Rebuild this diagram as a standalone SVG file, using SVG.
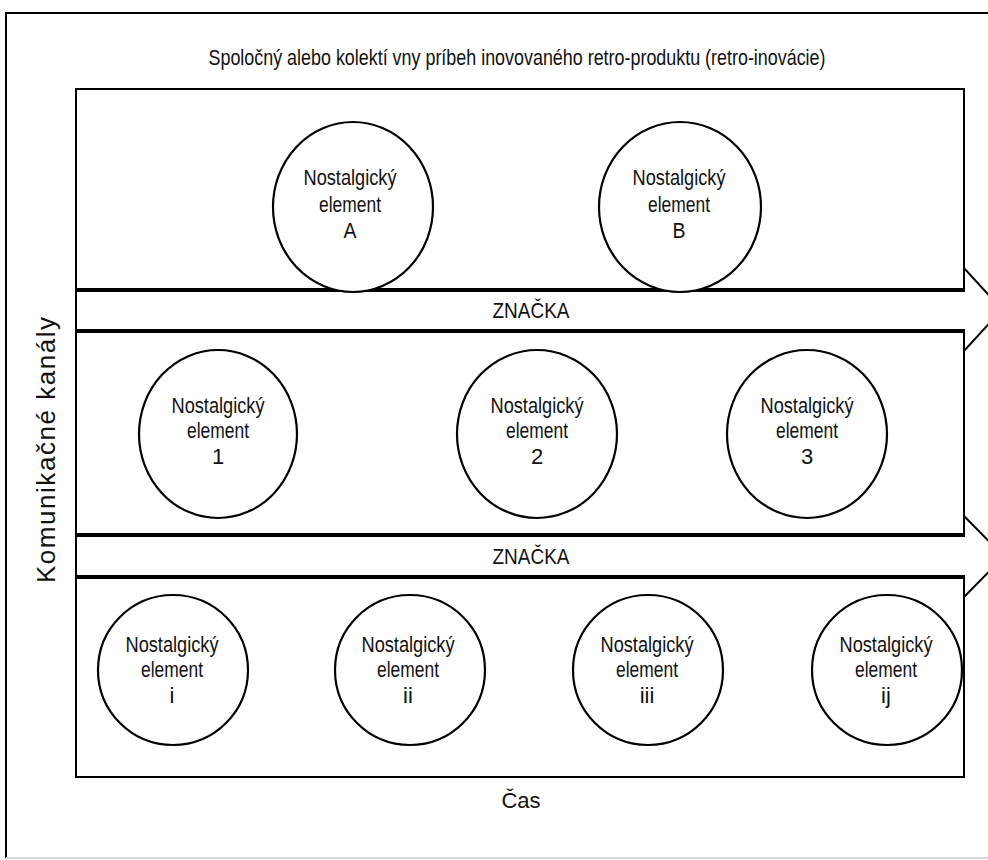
<svg xmlns="http://www.w3.org/2000/svg" width="988" height="860" viewBox="0 0 988 860">
<style>
.frame{fill:none;stroke:#000;stroke-width:2}
.panel{fill:#fff;stroke:#000;stroke-width:2}
.arrow{fill:#fff;stroke:#000;stroke-width:2;stroke-linejoin:miter}
.node{fill:#fff;stroke:#000;stroke-width:2.2}
text{font-family:"Liberation Sans",Arial,sans-serif;font-size:22px;fill:#111;text-anchor:middle}
</style>
<rect width="988" height="860" fill="#fff"/>
<g id="frame">
<line x1="6" y1="13" x2="988" y2="13" class="frame"/>
<line x1="6" y1="12" x2="6" y2="858" class="frame"/>
<line x1="6" y1="858" x2="988" y2="858" stroke="#d8d8d8" stroke-width="2"/>
</g>
<text id="title" x="517" y="65" textLength="617" lengthAdjust="spacingAndGlyphs">Spoločný alebo kolektí vny príbeh inovovaného retro-produktu (retro-inovácie)</text>
<text id="side-label" transform="translate(55,450) rotate(-90)" style="font-size:26px" textLength="266">Komunikačné kanály</text>
<g id="connectors">
<polygon class="arrow" points="76,291 964,291 964,268 1002,309.5 964,351 964,330 76,330"/>
<polygon class="arrow" points="76,536 964,536 964,516 1004,556.5 964,597 964,576 76,576"/>
<text x="531" y="318" textLength="77" lengthAdjust="spacingAndGlyphs">ZNAČKA</text>
<text x="531" y="564" textLength="77" lengthAdjust="spacingAndGlyphs">ZNAČKA</text>
</g>
<g id="panel-top"><rect class="panel" x="76" y="89" width="888" height="200"/></g>
<g id="panel-middle"><rect class="panel" x="76" y="332" width="888" height="202"/></g>
<g id="panel-bottom"><rect class="panel" x="76" y="578" width="888" height="199"/></g>
<g id="node-A"><ellipse class="node" cx="353" cy="207" rx="80" ry="85"/>
<text x="350" y="185" textLength="93" lengthAdjust="spacingAndGlyphs">Nostalgický</text>
<text x="350" y="212" textLength="62" lengthAdjust="spacingAndGlyphs">element</text>
<text x="350" y="238" textLength="13" lengthAdjust="spacingAndGlyphs">A</text></g>
<g id="node-B"><ellipse class="node" cx="680" cy="207" rx="81" ry="85"/>
<text x="679" y="185" textLength="93" lengthAdjust="spacingAndGlyphs">Nostalgický</text>
<text x="679" y="212" textLength="62" lengthAdjust="spacingAndGlyphs">element</text>
<text x="679" y="238" textLength="13" lengthAdjust="spacingAndGlyphs">B</text></g>
<g id="node-1"><ellipse class="node" cx="218" cy="434" rx="79" ry="84"/>
<text x="218" y="413" textLength="93" lengthAdjust="spacingAndGlyphs">Nostalgický</text>
<text x="218" y="438" textLength="62" lengthAdjust="spacingAndGlyphs">element</text>
<text x="218" y="464">1</text></g>
<g id="node-2"><ellipse class="node" cx="537" cy="434" rx="80" ry="84"/>
<text x="537" y="413" textLength="93" lengthAdjust="spacingAndGlyphs">Nostalgický</text>
<text x="537" y="438" textLength="62" lengthAdjust="spacingAndGlyphs">element</text>
<text x="537" y="464">2</text></g>
<g id="node-3"><ellipse class="node" cx="807" cy="434" rx="80" ry="84"/>
<text x="807" y="413" textLength="93" lengthAdjust="spacingAndGlyphs">Nostalgický</text>
<text x="807" y="438" textLength="62" lengthAdjust="spacingAndGlyphs">element</text>
<text x="807" y="464">3</text></g>
<g id="node-i"><circle class="node" cx="173" cy="670" r="75"/>
<text x="172" y="652" textLength="93" lengthAdjust="spacingAndGlyphs">Nostalgický</text>
<text x="172" y="677" textLength="62" lengthAdjust="spacingAndGlyphs">element</text>
<text x="172" y="703">i</text></g>
<g id="node-ii"><circle class="node" cx="410" cy="670" r="75"/>
<text x="408" y="652" textLength="93" lengthAdjust="spacingAndGlyphs">Nostalgický</text>
<text x="408" y="677" textLength="62" lengthAdjust="spacingAndGlyphs">element</text>
<text x="408" y="703">ii</text></g>
<g id="node-iii"><circle class="node" cx="648" cy="670" r="75"/>
<text x="647" y="652" textLength="93" lengthAdjust="spacingAndGlyphs">Nostalgický</text>
<text x="647" y="677" textLength="62" lengthAdjust="spacingAndGlyphs">element</text>
<text x="647" y="703">iii</text></g>
<g id="node-ij"><circle class="node" cx="887" cy="670" r="75"/>
<text x="886" y="652" textLength="93" lengthAdjust="spacingAndGlyphs">Nostalgický</text>
<text x="886" y="677" textLength="62" lengthAdjust="spacingAndGlyphs">element</text>
<text x="886" y="703">ij</text></g>
<text id="time-label" x="521" y="808">Čas</text>
</svg>
